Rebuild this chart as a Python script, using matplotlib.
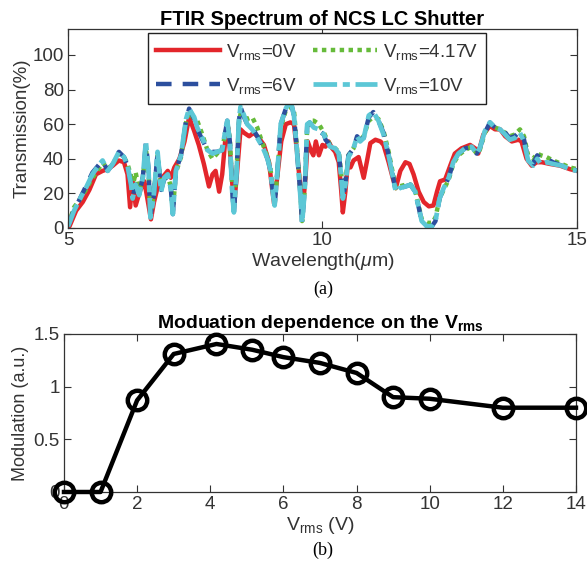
import matplotlib
matplotlib.use("Agg")
import matplotlib.pyplot as plt

plt.rcParams['font.family'] = ['Liberation Sans', 'DejaVu Sans']
plt.rcParams['mathtext.fontset'] = 'custom'
plt.rcParams['mathtext.rm'] = 'Liberation Sans'
plt.rcParams['mathtext.it'] = 'Liberation Sans:italic'
plt.rcParams['mathtext.bf'] = 'Liberation Sans:bold'

# --- FTIR spectrum, Vrms = 0V (own wavelength grid)
wl_0v = [5.0, 5.03, 5.16, 5.29, 5.42, 5.55, 5.68, 5.78, 5.88, 6.0, 6.1, 6.17, 6.22, 6.27, 6.33, 6.41,
         6.5, 6.56, 6.63, 6.69, 6.79, 6.85, 6.96, 7.02, 7.09, 7.19, 7.29, 7.38, 7.48, 7.57, 7.67, 7.77,
         7.84, 7.9, 7.97, 8.03, 8.1, 8.15, 8.23, 8.27, 8.33, 8.39, 8.46, 8.56, 8.65, 8.75, 8.85, 8.95,
         9.01, 9.05, 9.11, 9.19, 9.28, 9.37, 9.44, 9.5, 9.56, 9.6, 9.67, 9.71, 9.77, 9.82, 9.87, 9.93,
         10.0, 10.06, 10.12, 10.19, 10.25, 10.32, 10.37, 10.4, 10.45, 10.5, 10.55, 10.61, 10.71, 10.81,
         10.87, 10.94, 11.04, 11.14, 11.2, 11.3, 11.38, 11.44, 11.53, 11.63, 11.71, 11.79, 11.89, 11.99,
         12.09, 12.18, 12.25, 12.31, 12.41, 12.51, 12.6, 12.73, 12.9, 13.0, 13.06, 13.16, 13.29, 13.39,
         13.49, 13.59, 13.72, 13.85, 13.91, 14.01, 14.11, 14.21, 14.31, 14.47, 14.67, 14.86, 15.0]
t_0v = [0, 1, 10, 15, 22, 31, 33, 34, 36, 39, 38, 31, 12, 27, 13, 21,
        27, 17, 5, 15, 27, 29, 33, 29, 35, 40, 50, 64, 56, 48, 37, 24,
        31, 33, 21, 31, 54, 58, 25, 15, 35, 57, 55, 53, 55, 52, 48, 38,
        23, 14, 29, 50, 60, 61, 60, 44, 25, 6, 31, 50, 45, 42, 50, 42,
        48, 47, 50, 46, 44, 38, 21, 9, 21, 38, 35, 39, 41, 29,
        38, 49, 51, 50, 48, 38, 29, 23, 33, 38, 37, 31, 21, 15,
        12.5, 13, 21, 27, 28, 36, 43, 46, 48, 46, 43, 54, 59, 57,
        57, 53, 50, 51, 50, 40, 36, 38, 38, 37, 36, 34, 33]

# --- FTIR spectrum, Vrms = 4.17V / 6V / 10V (shared wavelength grid)
wl_on = [5.0, 5.03, 5.12, 5.22, 5.35, 5.48, 5.62, 5.68, 5.78, 5.88, 6.0, 6.1, 6.17, 6.24, 6.27, 6.33,
         6.4, 6.47, 6.53, 6.58, 6.62, 6.68, 6.76, 6.83, 6.89, 6.96, 7.02, 7.06, 7.12, 7.22, 7.32, 7.38,
         7.48, 7.54, 7.64, 7.74, 7.84, 7.93, 8.03, 8.1, 8.13, 8.18, 8.23, 8.26, 8.31, 8.36, 8.39, 8.46,
         8.52, 8.62, 8.72, 8.82, 8.92, 8.98, 9.03, 9.06, 9.11, 9.18, 9.28, 9.37, 9.44, 9.5, 9.56, 9.6,
         9.65, 9.7, 9.75, 9.83, 9.93, 10.03, 10.06, 10.15, 10.25, 10.32, 10.37, 10.4, 10.45, 10.51,
         10.61, 10.68, 10.74, 10.81, 10.91, 11.0, 11.1, 11.2, 11.3, 11.38, 11.44, 11.51, 11.63, 11.73,
         11.82, 11.89, 11.95, 12.05, 12.15, 12.22, 12.3, 12.38, 12.48, 12.57, 12.67, 12.8, 12.93, 13.03,
         13.09, 13.19, 13.29, 13.39, 13.49, 13.59, 13.68, 13.78, 13.88, 13.96, 14.04, 14.14, 14.22,
         14.29, 14.4, 14.53, 14.7, 14.86, 15.0]
t_10v = [1, 3, 10, 16, 23, 31, 37, 39, 33, 37, 44, 41, 36, 25, 17, 25,
         19, 29, 50, 35, 6, 17, 44, 21, 29, 31, 23, 8, 33, 42, 63, 69,
         64, 58, 52, 45, 43, 44, 45, 58, 62, 50, 19, 9, 31, 63, 70, 65,
         60, 57, 52, 47, 40, 33, 19, 13, 31, 60, 69, 74, 65, 44, 21, 3,
         21, 60, 61, 58, 57, 54, 52, 47, 46, 43, 29, 17, 25, 41,
         46, 53, 50, 52, 65, 67, 62, 54, 42, 30, 21, 23, 24, 25,
         21, 12, 4, 1, 1, 4, 17, 23, 29, 38, 43, 46, 47, 43,
         46, 56, 61, 58, 57, 54, 51, 52, 55, 50, 39, 36, 40,
         37, 38, 37, 36, 34, 33]
t_6v = [1, 3, 11, 16, 24, 32, 37, 39, 33, 37, 44, 41, 36, 25, 18, 25,
        20, 29, 49, 35, 7, 17, 43, 22, 28, 30, 23, 8, 33, 42, 62, 69,
        63, 57, 51, 45, 44, 44, 45, 57, 62, 50, 20, 9, 31, 62, 70, 64,
        60, 58, 53, 47, 40, 33, 20, 13, 31, 60, 69, 74, 65, 44, 22, 3,
        22, 59, 61, 58, 56, 54, 51, 48, 46, 43, 30, 17, 26, 42,
        46, 53, 51, 52, 64, 67, 62, 55, 42, 31, 21, 23, 24, 25,
        21, 12, 4, 1, 1, 4, 17, 23, 29, 38, 43, 46, 47, 43,
        46, 55, 61, 58, 57, 55, 52, 53, 56, 51, 40, 37, 42,
        40, 40, 38, 36, 35, 33]
t_417v = [2, 4, 12, 16, 22, 29, 35, 38, 34, 37, 43, 41, 37, 30, 24, 32,
          22, 29, 46, 34, 9, 18, 42, 24, 28, 30, 24, 10, 32, 41, 61, 67,
          63, 62, 54, 45, 40, 43, 46, 56, 60, 52, 22, 11, 32, 61, 66, 64,
          63, 64, 58, 49, 41, 34, 20, 14, 30, 58, 68, 70, 68, 46, 23, 4,
          22, 58, 62, 62, 60, 55, 53, 48, 46, 44, 31, 19, 27, 42,
          46, 52, 51, 53, 62, 64, 63, 56, 44, 32, 23, 24, 25, 25,
          22, 13, 5, 3, 3, 6, 17, 22, 28, 37, 42, 45, 47, 43,
          45, 55, 60, 58, 57, 55, 53, 54, 57, 53, 42, 40, 43,
          42, 41, 39, 37, 35, 34]

# --- modulation vs Vrms
vrms = [0, 1, 2, 3, 4.17, 5.15, 6, 7, 8, 9, 10, 12, 14]
modulation = [0, 0, 0.87, 1.31, 1.405, 1.35, 1.28, 1.225, 1.13, 0.90, 0.885, 0.80, 0.80]

axis_col = '#333333'

fig = plt.figure(figsize=(5.87, 5.67), dpi=100)

# ---------- (a) FTIR spectrum ----------
ax1 = fig.add_axes([0.1158, 0.5979, 0.8671, 0.351])
l0, = ax1.plot(wl_0v, t_0v, color='#e3262b', lw=3.2, ls='-')
l4, = ax1.plot(wl_on, t_417v, color='#66bb3a', lw=3.2, ls=(0, (1, 1)))
l6, = ax1.plot(wl_on, t_6v, color='#2c4f9e', lw=3.2, ls=(0, (3.5, 2.5)))
l10, = ax1.plot(wl_on, t_10v, color='#5cc7d6', lw=3.4, ls=(0, (5, 1.2, 1.5, 1.2)))
ax1.set_xlim(5, 15)
ax1.set_ylim(0, 115)
ax1.set_xticks([5, 10, 15])
ax1.set_yticks([0, 20, 40, 60, 80, 100])
ax1.set_xlabel(r'Wavelength($\mu$m)', fontsize=14, color=axis_col, labelpad=1)
ax1.set_ylabel('Transmission(%)', fontsize=13.5, color=axis_col, labelpad=1)
ax1.set_title('FTIR Spectrum of NCS LC Shutter', fontsize=14.5, fontweight='bold', pad=3)
leg = ax1.legend([l0, l6, l4, l10],
                 [r'V$_{\mathrm{rms}}$=0V', r'V$_{\mathrm{rms}}$=6V',
                  r'V$_{\mathrm{rms}}$=4.17V', r'V$_{\mathrm{rms}}$=10V'],
                 ncol=2, loc='upper left', bbox_to_anchor=(0.157, 0.978),
                 fontsize=13.5, handlelength=3.4, handletextpad=0.3, columnspacing=0.9,
                 labelspacing=0.75, borderpad=0.45, fancybox=False, framealpha=1,
                 borderaxespad=0)
leg.get_frame().set_edgecolor('#222222')
leg.get_frame().set_linewidth(1.0)
for t in leg.get_texts():
    t.set_color(axis_col)
fig.text(0.5504, 1 - 289 / 567, '(a)', ha='center', va='center', fontsize=13,
         family='Liberation Serif')

# ---------- (b) modulation ----------
ax2 = fig.add_axes([0.109, 0.1323, 0.8722, 0.2787])
ax2.plot(vrms, modulation, color='black', lw=3.2, marker='o', markersize=14,
         markerfacecolor='none', markeredgewidth=3.2, clip_on=False, zorder=5)
ax2.set_xlim(0, 14)
ax2.set_ylim(0, 1.5)
ax2.set_xticks([0, 2, 4, 6, 8, 10, 12, 14])
ax2.set_yticks([0, 0.5, 1, 1.5])
ax2.set_yticklabels(['0', '0.5', '1', '1.5'])
ax2.set_xlabel(r'V$_{\mathrm{rms}}$ (V)', fontsize=14, color=axis_col, labelpad=1)
ax2.set_ylabel('Modulation (a.u.)', fontsize=13, color=axis_col, labelpad=3)
ax2.set_title(r'Moduation dependence on the V$_{\mathbf{rms}}$', fontsize=14,
              fontweight='bold', pad=4)
fig.text(0.5504, 1 - 550 / 567, '(b)', ha='center', va='center', fontsize=13,
         family='Liberation Serif')

for ax in (ax1, ax2):
    ax.tick_params(direction='in', top=True, right=True, length=5, width=0.8,
                   labelsize=13.5, colors=axis_col, pad=3)
    for s in ax.spines.values():
        s.set_color(axis_col)
        s.set_linewidth(0.9)

fig.savefig('out.png', dpi=100)
